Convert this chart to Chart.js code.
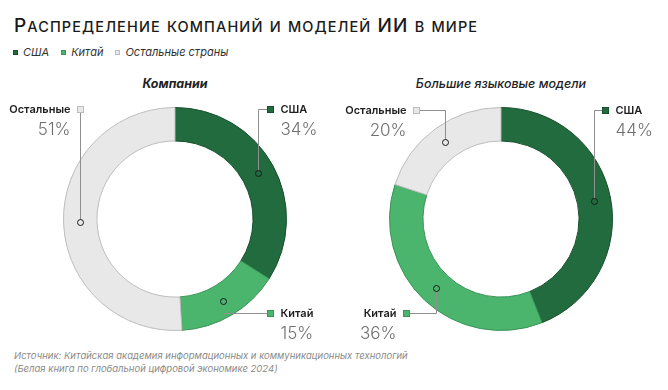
<!DOCTYPE html>
<html lang="ru">
<head>
<meta charset="utf-8">
<script src="https://cdn.jsdelivr.net/npm/chart.js@4.4.1/dist/chart.umd.min.js"></script>
<style>
body{margin:0;width:668px;height:390px;overflow:hidden;background:#fff;position:relative;font-family:Inter,"Open Sans",sans-serif;color:#222}
.title{position:absolute;left:14px;top:16px;font-size:19px;line-height:20px;font-weight:500;letter-spacing:1.1px;white-space:nowrap;color:#1a1a1a}
.title .sc{font-size:14.5px}
.legend{position:absolute;left:13px;top:45px;font-size:11px;font-style:italic;color:#333;white-space:nowrap}
.legend span.item{margin-right:12px}
.legend i{display:inline-block;width:5px;height:5px;margin-right:5px;vertical-align:1px;box-sizing:border-box}
.sub{position:absolute;font-size:12.5px;font-style:italic;transform:translateX(-50%);white-space:nowrap;top:76px}
.src{position:absolute;left:14px;top:349px;font-size:9.5px;font-style:italic;color:#8a8a8a;line-height:13px}
canvas{position:absolute}
</style>
</head>
<body>
<div class="title" id="title"></div>
<div class="legend" id="legend"></div>
<div class="sub" style="left:175px;font-weight:700">Компании</div>
<div class="sub" style="left:501px;font-weight:500">Большие языковые модели</div>
<canvas id="c1" width="350" height="250" style="left:0;top:95px"></canvas>
<canvas id="c2" width="342" height="250" style="left:326px;top:95px"></canvas>
<div class="src">Источник: Китайская академия информационных и коммуникационных технологий<br>(Белая книга по глобальной цифровой экономике 2024)</div>
<script>
const titleText = 'Распределение компаний и моделей ИИ в мире'
const categories = ['США', 'Китай', 'Остальные страны']
const shortNames = ['США', 'Китай', 'Остальные']
const companyShare = [34, 15, 51]
const llmShare = [44, 36, 20]

const colors = ['#216b3e', '#4bb56d', '#e8e8e8']
const borders = ['#174f2c', '#3a9458', '#bdbdbd']

// title in small caps: lowercase letters drawn as smaller capitals
var title = document.getElementById('title')
var html = ''
for (let ch of titleText) {
    if (ch != ch.toUpperCase()) html += `<span class="sc">${ch.toUpperCase()}</span>`
    else html += ch
}
title.innerHTML = html

// legend
var legend = document.getElementById('legend')
categories.forEach((c, i) => {
    legend.innerHTML += `<span class="item"><i style="background:${colors[i]};border:1px solid ${borders[i]}"></i>${c}</span>`
})

const calloutPlugin = {
    id: 'callouts',
    afterDatasetsDraw(chart, args, opts) {
        const ctx = chart.ctx
        const meta = chart.getDatasetMeta(0)
        const values = chart.data.datasets[0].data
        meta.data.forEach((arc, i) => {
            const cx = arc.x, cy = arc.y
            const mid = (arc.startAngle + arc.endAngle) / 2
            const r = (arc.innerRadius + arc.outerRadius) / 2
            const px = Math.round(cx + Math.cos(mid) * r) + 0.5
            const py = Math.round(cy + Math.sin(mid) * r) + 0.5
            const pos = opts.layout[i]
            const sx = Math.round(cx + pos.dx) + 0.5
            const sy = Math.round(cy + pos.dy) + 0.5
            ctx.save()
            ctx.strokeStyle = '#8f8f8f'
            ctx.lineWidth = 1
            ctx.beginPath()
            ctx.moveTo(px, py)
            ctx.lineTo(px, sy)
            ctx.lineTo(sx, sy)
            ctx.stroke()
            // small ring on the arc
            ctx.beginPath()
            ctx.arc(px, py, 3, 0, Math.PI * 2)
            ctx.fillStyle = colors[i]
            ctx.fill()
            ctx.strokeStyle = '#1a1a1a'
            ctx.stroke()
            // square
            ctx.fillStyle = colors[i]
            ctx.fillRect(sx - 3, sy - 3, 6, 6)
            ctx.strokeStyle = borders[i]
            ctx.strokeRect(sx - 3, sy - 3, 6, 6)
            // texts
            const tx = pos.side == 'left' ? sx - 10 : sx + 10
            ctx.textAlign = pos.side == 'left' ? 'right' : 'left'
            ctx.textBaseline = 'middle'
            ctx.fillStyle = '#1e1e1e'
            ctx.font = '600 11px Inter'
            ctx.fillText(shortNames[i], tx, sy)
            ctx.fillStyle = '#707070'
            ctx.font = '300 17px Inter'
            ctx.fillText(values[i] + '%', tx, sy + 20)
            ctx.restore()
        })
    }
}

function makeDonut(id, values, layout, pad) {
    var ctx = document.getElementById(id).getContext('2d')
    return new Chart(ctx, {
        type: 'doughnut',
        data: {
            labels: categories,
            datasets: [{
                data: values,
                backgroundColor: colors,
                borderColor: borders,
                borderWidth: 1
            }]
        },
        options: {
            responsive: false,
            animation: false,
            cutout: '70%',
            layout: { padding: pad },
            plugins: {
                legend: { display: false },
                tooltip: { enabled: false },
                callouts: { layout: layout }
            }
        },
        plugins: [calloutPlugin]
    })
}

makeDonut('c1', companyShare, [
    { dx: 95, dy: -110, side: 'right' },
    { dx: 95, dy: 94, side: 'right' },
    { dx: -95, dy: -110, side: 'left' }
], { top: 12, bottom: 14, left: 0, right: 0 })

makeDonut('c2', llmShare, [
    { dx: 104, dy: -109, side: 'right' },
    { dx: -95, dy: 94, side: 'left' },
    { dx: -85, dy: -109, side: 'left' }
], { top: 12, bottom: 14, left: 8, right: 0 })
</script>
</body>
</html>
